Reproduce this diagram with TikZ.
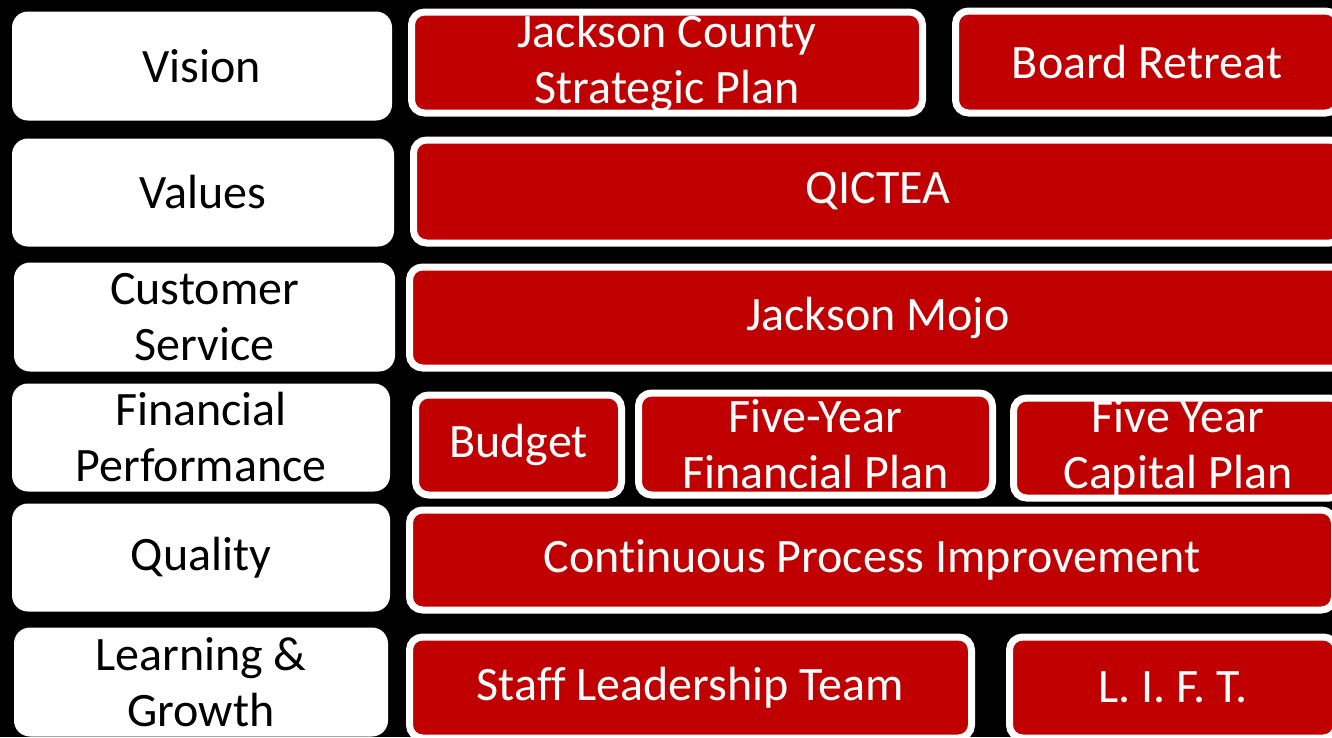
\documentclass[tikz,border=0pt]{standalone}
\usepackage{fontspec}
\setmainfont{Carlito}[Ligatures=CommonOff]
\definecolor{boxred}{HTML}{C00000}
\newcommand{\boxfont}{\fontsize{48}{56}\selectfont}
\tikzset{
  labelbox/.style={fill=white, rounded corners=16pt, inner xsep=0pt, inner ysep=-20pt, align=center, text=black, font=\boxfont},
  itembox/.style={draw=white, line width=7pt, fill=boxred, rounded corners=13pt, inner xsep=0pt, inner ysep=-20pt, align=center, text=white, font=\boxfont}
}
\begin{document}
\begin{tikzpicture}[x=1pt, y=-1pt]
    \useasboundingbox (0,0) rectangle (1332,737);
    \fill[black] (0,0) rectangle (1332,737);
    \clip (0,0) rectangle (1332,737);
    % left column
    \begin{scope}[every node/.style = {labelbox}]
        \node[minimum width=380pt, minimum height=109pt] (vision) at (202,66) {Vision};
        \node[minimum width=382pt, minimum height=108pt] (values) at (203,192.5) {Values};
        \node[minimum width=381pt, minimum height=109pt] (custsvc) at (204.5,317) {Customer\\Service};
        \node[minimum width=378pt, minimum height=108pt] (finperf) at (201,437.5) {Financial\\Performance};
        \node[minimum width=378pt, minimum height=108pt] (quality) at (201,557.5) {Quality};
        \node[minimum width=374pt, minimum height=109pt] (learning) at (201,682) {Learning \&\\Growth};
    \end{scope}
    % right side
    \begin{scope}[every node/.style = {itembox}]
        \node[minimum width=511pt, minimum height=101pt] (stratplan) at (667,62.5) {Jackson County\\Strategic Plan};
        \node[minimum width=383pt, minimum height=102pt] (retreat) at (1147,62) {Board Retreat};
        \node[minimum width=929pt, minimum height=103pt] (qictea) at (878,191.5) {QICTEA};
        \node[minimum width=937pt, minimum height=101pt] (mojo) at (878,317.5) {Jackson Mojo};
        \node[minimum width=206pt, minimum height=100pt] (budget) at (518.5,445) {Budget};
        \node[minimum width=354pt, minimum height=102pt] (finplan) at (815.5,444) {Five-Year\\Financial Plan};
        \node[minimum width=329pt, minimum height=100pt] (capplan) at (1178,448) {Five Year\\Capital Plan};
        \node[minimum width=925pt, minimum height=100pt] (cpi) at (872,560) {Continuous Process Improvement};
        \node[minimum width=562pt, minimum height=101pt] (staff) at (690.5,687.5) {Staff Leadership Team};
        \node[minimum width=327pt, minimum height=101pt] (lift) at (1173,687.5) {L. I. F. T.};
    \end{scope}
\end{tikzpicture}
\end{document}
